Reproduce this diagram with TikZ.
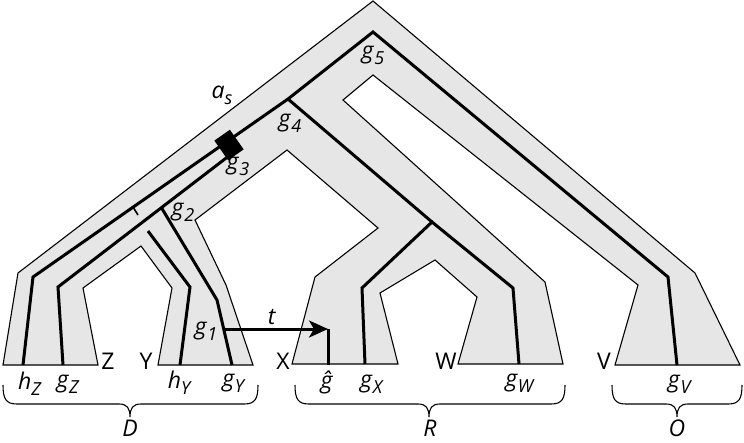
\documentclass[tikz,border=0pt]{standalone}
\usepackage{fontspec}
\setmainfont{Open Sans}
\usetikzlibrary{arrows.meta}
\definecolor{tubegray}{RGB}{230,230,230}
\newcommand\lbl[2]{\textit{#1}\raisebox{-0.5ex}{\fontsize{18}{18}\selectfont\textit{#2}}}
\newcommand\ubrace[3]{\draw[brc] (#1,385) .. controls (#1,399) and (#1+3,404) .. (#1+14,404) -- (#2-11,404) .. controls (#2-3,404) and (#2,408) .. (#2,417) .. controls (#2,408) and (#2+3,404) .. (#2+11,404) -- (#3-14,404) .. controls (#3-3,404) and (#3,399) .. (#3,385);}
\begin{document}
\begin{tikzpicture}[x=1pt,y=-1pt,
  tube/.style={fill=tubegray,draw=black,line width=1.1pt,line join=miter},
  gene/.style={draw=black,line width=3pt,line join=miter},
  lab/.style={font=\fontsize{23}{23}\selectfont,inner sep=0pt},
  brc/.style={draw=black,line width=1.1pt},
  dupbox/.style={fill=black,draw=none,minimum width=19pt,minimum height=24pt,inner sep=0pt,rotate=35}]
\useasboundingbox (0,0) rectangle (744,442);

% species tree tube
\draw[tube] (287,150) -- (378,228) -- (315,277) -- (292,364) -- (398,364) -- (380,293)
  -- (435,260) -- (477,297) -- (458,364) -- (563,364) -- (545,282) -- (343,100)
  -- (373,75) -- (638,285) -- (615,365) -- (740,365) -- (695,273) -- (373,1)
  -- (18,273) -- (3,365) -- (98,365) -- (83,288) -- (141,246) -- (172,288)
  -- (158,365) -- (253,365) -- (226,285) -- (195,220) -- cycle;

% gene tree points
\coordinate (g5) at (373,32);
\coordinate (g4) at (288,99);
\coordinate (gR) at (432,222);
\coordinate (hZb) at (33,277);
\coordinate (hZe) at (23,365);
\coordinate (g3s) at (234,152);
\coordinate (g2) at (161,207);
\coordinate (gZb) at (58,287);
\coordinate (gZe) at (63,365);
\coordinate (gYb) at (217,300);
\coordinate (gYe) at (232,365);
\coordinate (g1) at (224,329);
\coordinate (hYs) at (148,231);
\coordinate (hYb) at (190,287);
\coordinate (hYe) at (180,365);
\coordinate (gXb) at (362,288);
\coordinate (gXe) at (365,364);
\coordinate (gWb) at (513,288);
\coordinate (gWe) at (519,364);
\coordinate (gVb) at (668,277);
\coordinate (gVe) at (677,365);
\coordinate (ghat) at (328,329);
\coordinate (ghate) at (328,365);
\coordinate (tick1) at (133,207);
\coordinate (tick2) at (138,215);

\draw[gene] (gVe) -- (gVb) -- (g5) -- (g4) -- (hZb) -- (hZe);
\draw[gene] (g4) -- (gR);
\draw[gene] (gXe) -- (gXb) -- (gR) -- (gWb) -- (gWe);
\draw[gene] (g3s) -- (gZb) -- (gZe);
\draw[gene] (g2) -- (gYb) -- (gYe);
\draw[gene] (hYs) -- (hYb) -- (hYe);
\draw[draw=black,line width=1.6pt] (tick1) -- (tick2);
\draw[gene] (ghat) -- (ghate);
\draw[gene,-{Stealth[length=19pt,width=17pt,inset=5pt]}] (g1) -- (ghat);
\node[dupbox] (dup) at (229,145) {};

% labels
\node[lab] (las) at (222,95) {\lbl{a}{s}};
\node[lab] (l5) at (373,55) {\lbl{g}{5}};
\node[lab] (l4) at (290,123) {\lbl{g}{4}};
\node[lab] (l3) at (238,166) {\lbl{g}{3}};
\node[lab] (l2) at (183,212) {\lbl{g}{2}};
\node[lab] (l1) at (206,331) {\lbl{g}{1}};
\node[lab] (lt) at (272,317) {\textit{t}};
\node[lab] (lZ) at (108,361) {Z};
\node[lab] (lY) at (146,361) {Y};
\node[lab] (lX) at (283,361) {X};
\node[lab] (lW) at (446,361) {W};
\node[lab] (lV) at (604,361) {V};
\node[lab] (lhZ) at (30,384) {\lbl{h}{Z}};
\node[lab] (lgZ) at (68,384) {\lbl{g}{Z}};
\node[lab] (lhY) at (180,383) {\lbl{h}{Y}};
\node[lab] (lgY) at (234,383) {\lbl{g}{Y}};
\node[lab] (lgh) at (327,382) {\textit{ĝ}};
\node[lab] (lgX) at (372,384) {\lbl{g}{X}};
\node[lab] (lgW) at (520,383) {\lbl{g}{W}};
\node[lab] (lgV) at (680,384) {\lbl{g}{V}};
\node[lab] (lD) at (130,428) {\textit{D}};
\node[lab] (lR) at (430,428) {\textit{R}};
\node[lab] (lO) at (677,428) {\textit{O}};

% braces
\ubrace{3}{130}{258}
\ubrace{295}{429}{565}
\ubrace{612}{677}{742}
\end{tikzpicture}
\end{document}
